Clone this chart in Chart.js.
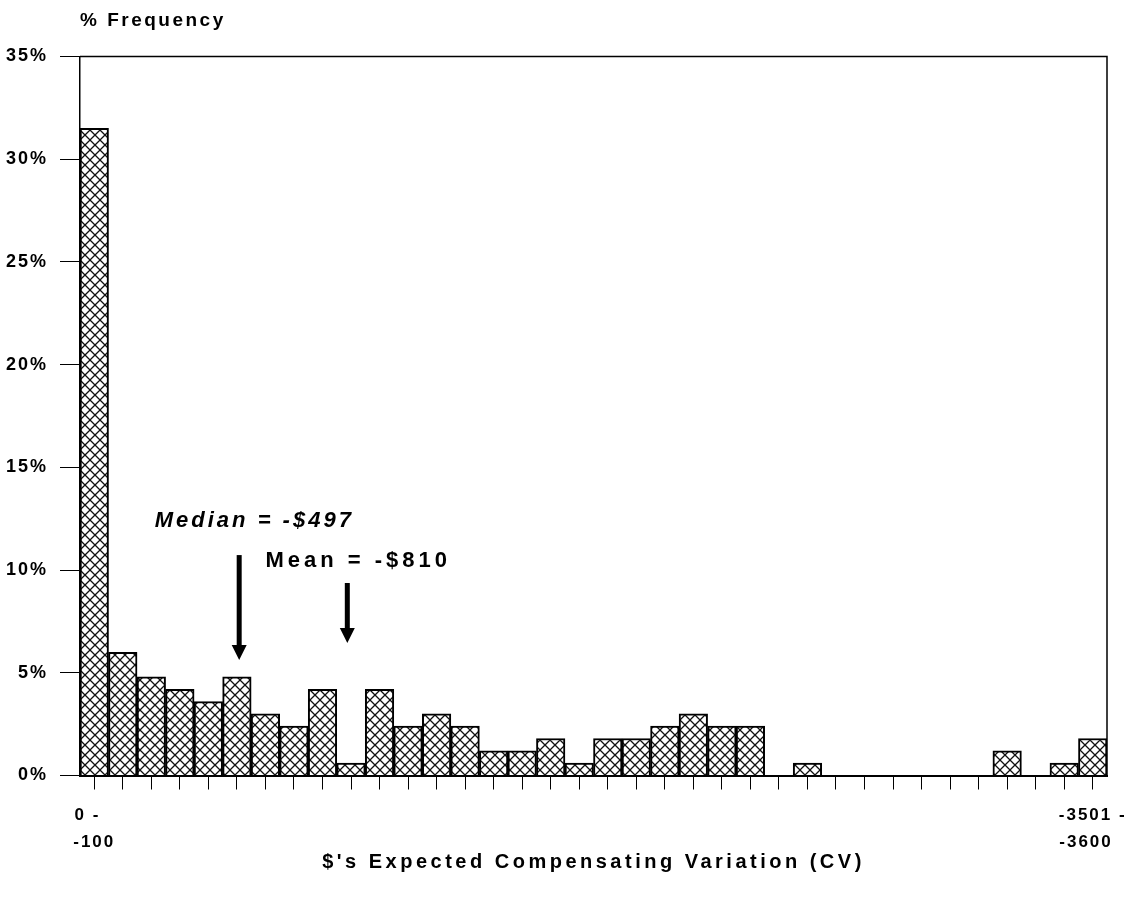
<!DOCTYPE html>
<html>
<head>
<meta charset="utf-8">
<script src="https://cdn.jsdelivr.net/npm/chart.js@4.4.1/dist/chart.umd.min.js"></script>
<style>
html,body{margin:0;padding:0;background:#fff;}
#wrap{width:1134px;height:898px;}
</style>
</head>
<body>
<div id="wrap"><canvas id="c" width="1134" height="898"></canvas></div>
<script>
// Bins of expected compensating variation ($)
const binLabels = [
  '0 - -100','-101 - -200','-201 - -300','-301 - -400','-401 - -500','-501 - -600',
  '-601 - -700','-701 - -800','-801 - -900','-901 - -1000','-1001 - -1100','-1101 - -1200',
  '-1201 - -1300','-1301 - -1400','-1401 - -1500','-1501 - -1600','-1601 - -1700','-1701 - -1800',
  '-1801 - -1900','-1901 - -2000','-2001 - -2100','-2101 - -2200','-2201 - -2300','-2301 - -2400',
  '-2401 - -2500','-2501 - -2600','-2601 - -2700','-2701 - -2800','-2801 - -2900','-2901 - -3000',
  '-3001 - -3100','-3101 - -3200','-3201 - -3300','-3301 - -3400','-3401 - -3500','-3501 - -3600'
];
// % frequency per bin
const frequency = [
  31.5, 6.0, 4.8, 4.2, 3.6, 4.8, 3.0, 2.4, 4.2, 0.6, 4.2, 2.4,
  3.0, 2.4, 1.2, 1.2, 1.8, 0.6, 1.8, 1.8, 2.4, 3.0, 2.4, 2.4,
  0, 0.6, 0, 0, 0, 0, 0, 0, 1.2, 0, 0.6, 1.8
];
const yTicks = [0, 5, 10, 15, 20, 25, 30, 35];
const yTitle = '% Frequency';
const xTitle = "$'s Expected Compensating Variation (CV)";
const annotationText = ['Median = -$497', 'Mean = -$810'];

const FONT = "'Liberation Sans', Arial, Helvetica, sans-serif";
const TICK_FONT = 'bold 17px ' + FONT;

function hatch() {
  const s = 10;
  const c = document.createElement('canvas');
  c.width = s; c.height = s;
  const g = c.getContext('2d');
  g.fillStyle = '#fff';
  g.fillRect(0, 0, s, s);
  g.strokeStyle = '#111';
  g.lineWidth = 1.3;
  g.beginPath();
  g.moveTo(-1, -1); g.lineTo(s + 1, s + 1);
  g.moveTo(-1, s + 1); g.lineTo(s + 1, -1);
  g.stroke();
  return c;
}

// measuring context for left-aligning the two lines of an end label
const mctx = document.createElement('canvas').getContext('2d');
function textW(t) {
  mctx.font = TICK_FONT;
  mctx.letterSpacing = '2px';
  return mctx.measureText(t).width;
}
function padTo(t, w) {
  while (textW(t + ' ') <= w + 3) t += ' ';
  return t;
}

const spacingPlugin = {
  id: 'spacing',
  beforeLayout(chart) { chart.ctx.letterSpacing = '2px'; },
  beforeDraw(chart) { chart.ctx.letterSpacing = '3.5px'; },      // axis title layer
  afterDatasetsDraw(chart) { chart.ctx.letterSpacing = '2px'; }  // tick label layer
};

const decorPlugin = {
  id: 'decor',
  afterDraw(chart) {
    const {ctx, chartArea: a, scales: {x, y}} = chart;
    ctx.save();
    // frame top & right
    ctx.strokeStyle = '#000';
    ctx.lineWidth = 1.5;
    ctx.beginPath();
    ctx.moveTo(a.left, a.top); ctx.lineTo(a.right, a.top); ctx.lineTo(a.right, a.bottom);
    ctx.stroke();
    // y title
    ctx.letterSpacing = '2.5px';
    ctx.fillStyle = '#000';
    ctx.font = 'bold 19px ' + FONT;
    ctx.textBaseline = 'middle';
    ctx.textAlign = 'left';
    ctx.fillText(yTitle, a.left, 21);

    // annotations
    const notes = [
      {text: annotationText[0], italic: true, size: 22, sp: '3px', xv: 2.12, yv: 12.4, ax: 5.08, tail: 10.73, tip: 5.62},
      {text: annotationText[1], italic: false, size: 22, sp: '4px', xv: 6.0, yv: 10.45, ax: 8.87, tail: 9.37, tip: 6.45}
    ];
    notes.forEach(n => {
      ctx.letterSpacing = n.sp;
      ctx.font = (n.italic ? 'italic ' : '') + 'bold ' + n.size + 'px ' + FONT;
      ctx.fillText(n.text, x.getPixelForValue(n.xv), y.getPixelForValue(n.yv));
      const px = x.getPixelForValue(n.ax);
      const y0 = y.getPixelForValue(n.tail);
      const y1 = y.getPixelForValue(n.tip);
      ctx.lineWidth = 5;
      ctx.beginPath();
      ctx.moveTo(px, y0); ctx.lineTo(px, y1 - 12);
      ctx.stroke();
      ctx.beginPath();
      ctx.moveTo(px - 7.5, y1 - 15); ctx.lineTo(px + 7.5, y1 - 15); ctx.lineTo(px, y1);
      ctx.closePath();
      ctx.fill();
    });
    ctx.restore();
  }
};

const ctx = document.getElementById('c').getContext('2d');
const pattern = ctx.createPattern(hatch(), 'repeat');

new Chart(ctx, {
  type: 'bar',
  data: {
    labels: binLabels,
    datasets: [{
      data: frequency,
      backgroundColor: pattern,
      borderColor: '#000',
      borderWidth: 2,
      barPercentage: 1,
      categoryPercentage: 1
    }]
  },
  options: {
    responsive: false,
    animation: false,
    devicePixelRatio: 1,
    layout: {padding: {left: 0, right: 27, top: 56.5, bottom: 24}},
    plugins: {legend: {display: false}, tooltip: {enabled: false}, title: {display: false}},
    scales: {
      x: {
        offset: true,
        grid: {display: true, drawOnChartArea: false, offset: false, tickLength: 14, color: '#000', lineWidth: 1},
        border: {display: true, color: '#000', width: 2},
        ticks: {
          z: 1,
          autoSkip: false, maxRotation: 0, minRotation: 0, padding: 12, color: '#000',
          font: {family: FONT, size: 17, weight: 'bold', lineHeight: '27px'},
          callback: function(v, i) {
            if (i === 0 || i === binLabels.length - 1) {
              const s = binLabels[i];
              const k = s.indexOf(' - ');
              let a = s.slice(0, k + 2), b = s.slice(k + 3);
              const w = Math.max(textW(a), textW(b));
              return [padTo(a, w), padTo(b, w)];
            }
            return '';
          }
        },
        title: {display: true, text: xTitle, color: '#000', padding: {top: 0, bottom: 0},
          font: {family: FONT, size: 20, weight: 'bold', lineHeight: 1.2}},
        afterFit(s) { s.height = 898 - 24 - 775.5; s.paddingLeft = 0; s.paddingRight = 0; }
      },
      y: {
        min: 0, max: 35,
        afterBuildTicks(s) { s.ticks = yTicks.map(v => ({value: v})); },
        grid: {display: true, drawOnChartArea: false, tickLength: 20, color: '#000', lineWidth: 1},
        border: {display: true, color: '#000', width: 1.5},
        ticks: {
          z: 1,
          padding: 12, color: '#000',
          font: {family: FONT, size: 18, weight: 'bold'},
          callback: v => v + '%'
        },
        afterFit(s) { s.width = 80; }
      }
    }
  },
  plugins: [spacingPlugin, decorPlugin]
});
</script>
</body>
</html>
